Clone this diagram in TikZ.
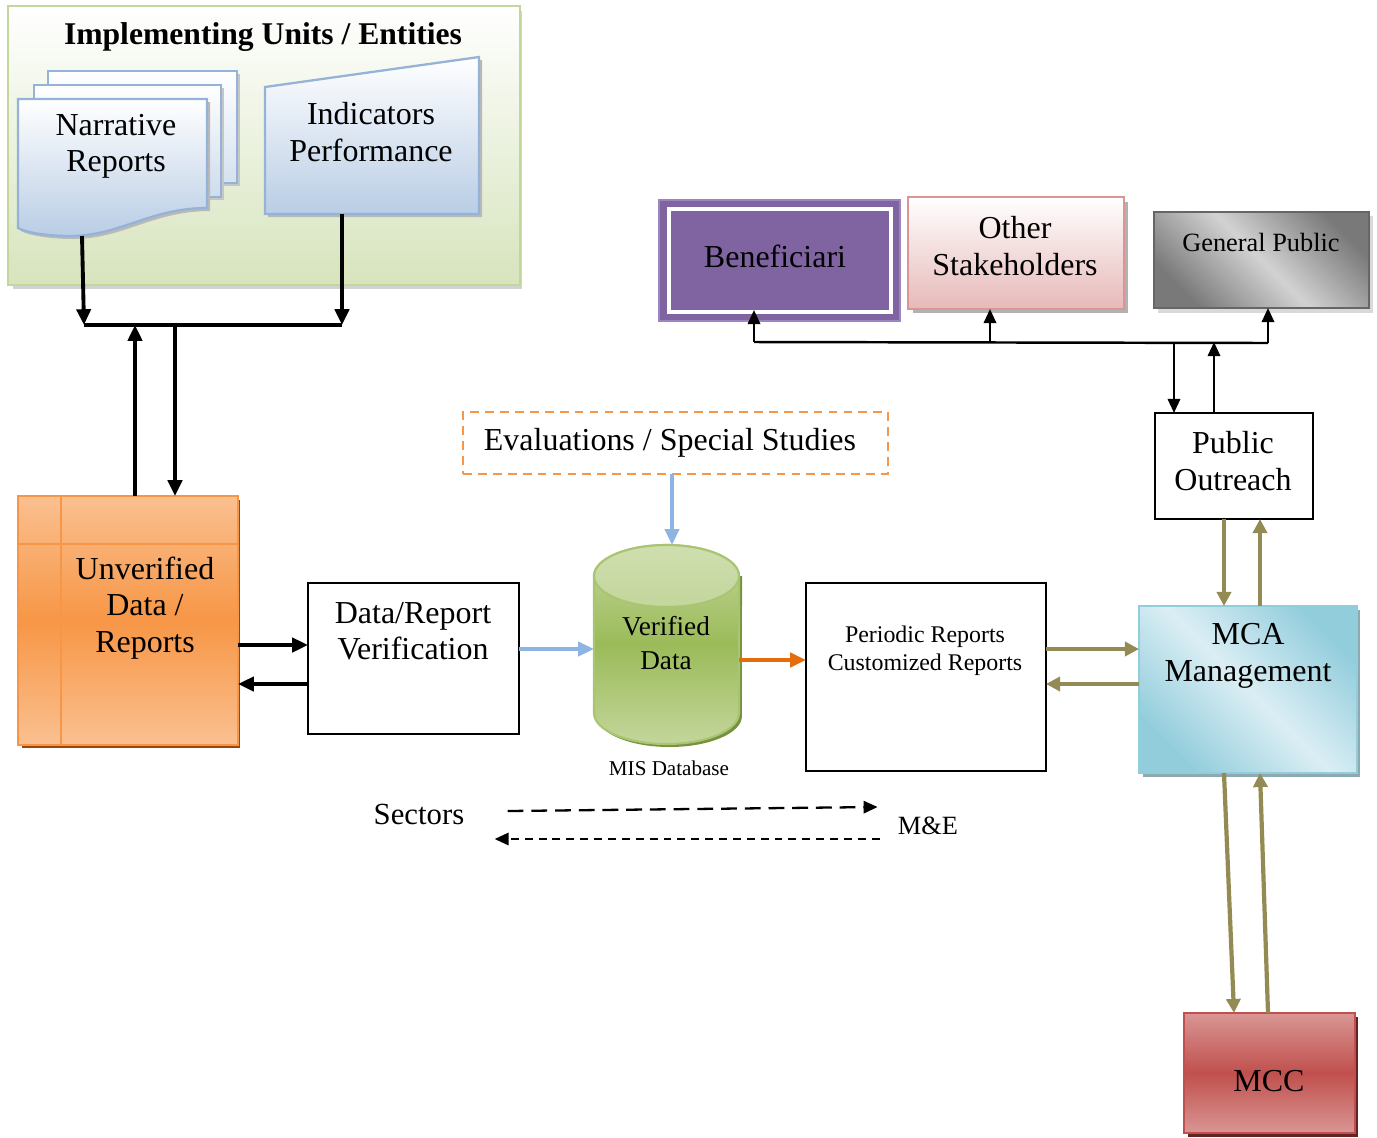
\documentclass[tikz,border=0pt]{standalone}
\usepackage{fontspec}
\setmainfont{Liberation Serif}
\usetikzlibrary{arrows.meta,fit,calc}
\definecolor{ggreen}{HTML}{D7E4BD}
\definecolor{gbord}{HTML}{C3D69B}
\definecolor{docfill}{HTML}{B9CDE5}
\definecolor{docbord}{HTML}{95B3D7}
\definecolor{org1}{HTML}{FAC090}
\definecolor{org2}{HTML}{F79646}
\definecolor{orgsh}{HTML}{984807}
\definecolor{cyl1}{HTML}{C3D69B}
\definecolor{cyl2}{HTML}{9BBB59}
\definecolor{cylsh}{HTML}{76923C}
\definecolor{blarrc}{HTML}{8EB4E3}
\definecolor{orarrc}{HTML}{E46C0A}
\definecolor{olive}{HTML}{948A54}
\definecolor{mca1}{HTML}{92CDDC}
\definecolor{mca2}{HTML}{DBEEF4}
\definecolor{mcash}{HTML}{8EA9B0}
\definecolor{mcc1}{HTML}{D99694}
\definecolor{mcc2}{HTML}{C0504D}
\definecolor{mccsh}{HTML}{632523}
\definecolor{purp}{HTML}{8064A2}
\definecolor{purpb}{HTML}{9C85C0}
\definecolor{pink}{HTML}{E6B9B8}
\definecolor{pinkb}{HTML}{D99694}
\begin{document}
\begin{tikzpicture}[x=0.02cm,y=-0.02cm,
  txt/.style={font=\fontsize{18.2}{20.7}\selectfont, align=center, inner sep=0},
  boxfit/.style={inner sep=0, outer sep=0},
  plainbox/.style={boxfit, draw=black, line width=1.2pt},
  barr/.style={line width=2.2pt, -{Triangle[length=9pt,width=8pt]}},
  bline/.style={line width=2.2pt},
  oarr/.style={line width=2.4pt, olive, -{Triangle[length=8pt,width=8pt]}},
  tarr/.style={line width=1.4pt, -{Triangle[length=8pt,width=7pt]}},
]
\useasboundingbox (0,0) rectangle (1377,1137);

% ---------- Implementing units frame
\fill[gray!35] (13,11) rectangle (522,289);
\node[boxfit, fit={(8,6)(520,285)}, draw=gbord, line width=1.5pt, top color=white, bottom color=ggreen] (impl) {};
\node[font=\bfseries\fontsize{18}{21}\selectfont, inner sep=0] (title) at (263,37) {Implementing Units / Entities};

% narrative reports (multi-document)
\fill[gray!45] (51,74) rectangle (240,186);
\filldraw[draw=docbord, line width=1.3pt, top color=white, bottom color=docfill!60] (48,71) rectangle (237,183);
\fill[gray!45] (37,88) rectangle (224,200);
\filldraw[draw=docbord, line width=1.3pt, top color=white, bottom color=docfill!70] (34,85) rectangle (221,197);
\fill[gray!55] (21,102) -- (210,102) -- (210,211) .. controls (153,211) and (123,239) .. (73,239) .. controls (48,239) and (28,235) .. (21,231) -- cycle;
\filldraw[draw=docbord, line width=1.3pt, top color=white, bottom color=docfill] (18,99) -- (207,99) -- (207,208) .. controls (150,208) and (120,236) .. (70,236) .. controls (45,236) and (25,232) .. (18,228) -- cycle;
\node[txt] (narr) at (116,146) {Narrative\\Reports};
\coordinate (nrb) at (82,236);

% indicators performance (manual input)
\fill[gray!55] (268,90) -- (482,60) -- (482,217) -- (268,217) -- cycle;
\filldraw[draw=docbord, line width=1.3pt, top color=white, bottom color=docfill] (265,87) -- (479,57) -- (479,214) -- (265,214) -- cycle;
\node[txt] (ind) at (371,132) {Indicators\\Performance};
\coordinate (indb) at (342,214);

\coordinate (jl) at (84,325);
\coordinate (jr) at (342,325);
\draw[barr] (nrb) -- (jl);
\draw[barr] (indb) -- (jr);
\draw[bline] (jl) -- (jr);

% ---------- Unverified data
\fill[orgsh] (22,500) rectangle (240,748);
\node[boxfit, fit={(18,496)(238,745)}, draw=org2, line width=1.2pt, top color=org1, bottom color=org1, middle color=org2] (unv) {};
\draw[org2, line width=1.2pt] (61,496) -- (61,745) (18,544) -- (238,544);
\node[txt] (unvt) at (145,608) {Unverified\\Data /\\Reports};

\draw[barr] (unv.north -| 135,0) -- (jl -| 135,0);
\draw[barr] (jl -| 175,0) -- (unv.north -| 175,0);

% ---------- Verification
\node[plainbox, fit={(308,583)(519,734)}] (ver) {};
\node[txt] (vert) at (413,631) {Data/Report\\Verification};
\draw[barr] (unv.east |- 0,645) -- (ver.west |- 0,645);
\draw[barr] (ver.west |- 0,684) -- (unv.east |- 0,684);

% ---------- Evaluations
\node[boxfit, fit={(463,412)(888,474)}, draw=org2, line width=1.5pt, dash pattern=on 5pt off 3.5pt] (eval) {};
\node[txt] (evalt) at (670,443) {Evaluations / Special Studies};

% ---------- Cylinder
\node[boxfit, fit={(594,545)(739,744)}] (cyl) {};
\fill[cylsh] (597,576) -- (597,716) arc[start angle=180, end angle=360, x radius=1.45cm, y radius=0.62cm] -- (742,576) -- cycle;
\filldraw[draw=cyl2!85, line width=1.2pt, top color=cyl1, bottom color=cyl1, middle color=cyl2] (594,576) -- (594,713) arc[start angle=180, end angle=360, x radius=1.45cm, y radius=0.62cm] -- (739,576) arc[start angle=0, end angle=180, x radius=1.45cm, y radius=0.62cm] -- cycle;
\filldraw[draw=cyl2!85, line width=1.2pt, top color=cyl1!80, bottom color=cyl1] (666.5,576) ellipse [x radius=1.45cm, y radius=0.62cm];
\node[font=\fontsize{15.5}{19}\selectfont, align=center, inner sep=0] (cylt) at (666,643) {Verified\\Data};
\node[font=\fontsize{12}{14}\selectfont, inner sep=0] (mis) at (669,768) {MIS Database};

\draw[line width=2pt, blarrc, -{Triangle[length=9pt,width=8pt]}] (eval.south -| 672,0) -- (cyl.north -| 672,0);
\draw[line width=2pt, blarrc, -{Triangle[length=9pt,width=8pt]}] (ver.east |- 0,649) -- (cyl.west |- 0,649);

% ---------- Periodic reports
\node[plainbox, fit={(806,583)(1046,771)}] (per) {};
\node[font=\fontsize{13.6}{16}\selectfont, align=center, inner sep=0] (pert) at (925,651) {Periodic Reports\\Customized Reports};
\draw[line width=2.4pt, orarrc, -{Triangle[length=9pt,width=8pt]}] (cyl.east |- 0,660) -- (per.west |- 0,660);

% ---------- MCA management
\fill[mcash] (1143,610) rectangle (1360,777);
\node[boxfit, fit={(1139,606)(1357,773)}, draw=mca1, line width=1.5pt, top color=mca1, bottom color=mca1, middle color=mca2, shading angle=-45] (mca) {};
\node[txt] (mcat) at (1248,656) {MCA\\Management};
\draw[oarr] (per.east |- 0,649) -- (mca.west |- 0,649);
\draw[oarr] (mca.west |- 0,684) -- (per.east |- 0,684);

% ---------- MCC
\fill[mccsh] (1188,1017) rectangle (1358,1137);
\node[boxfit, fit={(1184,1013)(1355,1133)}, draw=mcc2, line width=1.5pt, top color=mcc1, bottom color=mcc1, middle color=mcc2] (mcc) {};
\node[txt] (mcct) at (1269,1081) {MCC};
\draw[oarr] (mca.south -| 1224,0) -- (mcc.north -| 1234,0);
\draw[oarr] (mcc.north -| 1268,0) -- (mca.south -| 1260,0);

% ---------- Public outreach
\node[plainbox, fit={(1155,413)(1313,519)}] (po) {};
\node[txt] (pot) at (1233,461) {Public\\Outreach};
\draw[oarr] (po.south -| 1224,0) -- (mca.north -| 1224,0);
\draw[oarr] (mca.north -| 1260,0) -- (po.south -| 1260,0);

% ---------- Stakeholders
\node[boxfit, fit={(659,200)(900,321)}, fill=purp, draw=purpb, line width=1pt] (ben) {};
\draw[white, line width=2.2pt] (669,209) rectangle (891,312);
\node[txt] (bent) at (775,256) {Beneficiari};

\fill[gray!60] (913,202) rectangle (1128,313);
\node[boxfit, fit={(908,197)(1124,309)}, draw=pinkb, line width=1.5pt, top color=white, bottom color=pink] (oth) {};
\node[txt] (otht) at (1015,246) {Other\\Stakeholders};

\fill[gray!30] (1158,216) rectangle (1373,313);
\node[boxfit, fit={(1154,212)(1369,308)}, draw=gray!80!black, line width=1.5pt, top color=gray!95!black, bottom color=gray!95!black, middle color=gray!35, shading angle=-45] (gen) {};
\node[font=\fontsize{15}{18}\selectfont, inner sep=0] (gent) at (1261,242) {General Public};

\coordinate (hl) at (754,342);
\coordinate (hr) at (1268,343);
\draw[line width=1.4pt] (hl) -- (hr);
\draw[tarr] (hl) -- ($(ben.south -| hl)+(0,-11)$);
\draw[tarr] (hl -| 990,0) -- (oth.south -| 990,0);
\draw[tarr] (hr) -- (gen.south -| hr);
\draw[tarr] (hl -| 1174,0) -- (po.north -| 1174,0);
\draw[tarr] (po.north -| 1214,0) -- (hl -| 1214,0);

% ---------- Sectors / M&E
\node[font=\fontsize{17.5}{20}\selectfont, inner sep=0] (sec) at (419,814) {Sectors};
\node[font=\fontsize{15}{18}\selectfont, inner sep=0] (me) at (928,826) {M\&E};
\draw[line width=1.3pt, dash pattern=on 9pt off 4.5pt, -{Triangle[length=8pt,width=7pt]}] ($(sec.east)+(43,-3)$) -- ($(me.west)+(-20,-19)$);
\draw[line width=1.3pt, dash pattern=on 4.5pt off 3.4pt, -{Triangle[length=8pt,width=7pt]}] ($(me.west)+(-18,13)$) -- ($(sec.east)+(30,25)$);
\end{tikzpicture}
\end{document}
